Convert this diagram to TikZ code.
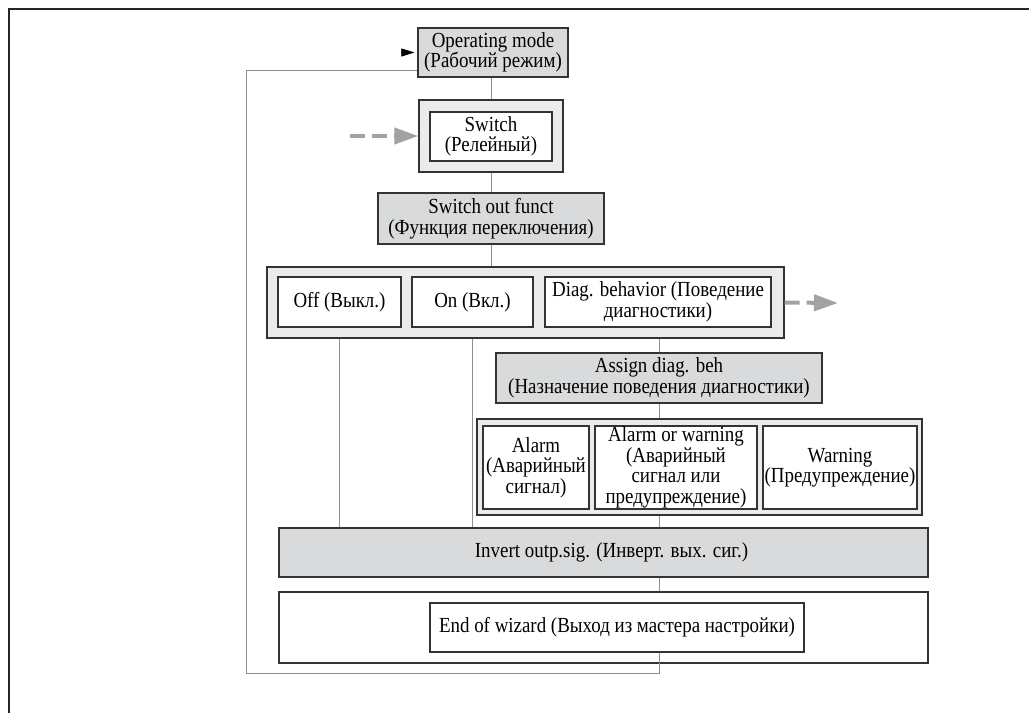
\documentclass[tikz,border=0pt]{standalone}
\usepackage{fontspec}
\setmainfont{Liberation Serif}[FakeStretch=0.88]
\usepackage{xcolor}
\usetikzlibrary{positioning,arrows.meta,calc}

\definecolor{boxgrey}{HTML}{D9DADB}
\definecolor{panegrey}{HTML}{EBEBEB}
\definecolor{linegrey}{HTML}{8E8E8E}
\definecolor{dashgrey}{HTML}{A2A2A2}

\begin{document}
\begin{tikzpicture}[
  x=1pt, y=-1pt,
  font=\fontsize{21.5}{20.5}\selectfont,
  every node/.style={draw=black!80, line width=1.2pt, align=center, inner sep=0pt},
  param/.style={fill=boxgrey},
  pane/.style={fill=panegrey},
  choice/.style={fill=white},
  link/.style={draw=linegrey, line width=0.9pt},
  goon/.style={draw=dashgrey, line width=4pt, dash pattern=on 15pt off 7pt,
    -{Triangle[length=24pt,width=16pt]}},
  back/.style={draw=black, line width=0.6pt, -{Triangle[length=13pt,width=8pt]}}]
\useasboundingbox (0,0) rectangle (1029,713);
\draw[black!85, line width=1.8pt] (9,713) -- (9,9) -- (1029,9);

% menu
\node[param, minimum width=150pt, minimum height=49pt] (op) at (493,52.5)
  {Operating mode\\(Рабочий режим)};
\node[pane, minimum width=144pt, minimum height=72pt] (sw) at (491,136) {};
\node[choice, minimum width=122pt, minimum height=49pt] (swin) at (491,136.5)
  {Switch\\(Релейный)};
\node[param, minimum width=226pt, minimum height=51pt] (swf) at (491,218.5)
  {Switch out funct\\(Функция переключения)};

\node[pane, minimum width=517pt, minimum height=71pt] (optrow) at (525.5,302.5) {};
\node[choice, minimum width=123pt, minimum height=50pt] (off) at (339.5,302) {Off (Выкл.)};
\node[choice, minimum width=121pt, minimum height=50pt] (on) at (472.5,302) {On (Вкл.)};
\node[choice, minimum width=226pt, minimum height=50pt] (diag) at (658,302)
  {Diag. behavior (Поведение\\диагностики)};

\node[param, minimum width=326pt, minimum height=50pt] (assign) at (659,378)
  {Assign diag. beh\\(Назначение поведения диагностики)};

\node[pane, minimum width=445pt, minimum height=96pt] (alrow) at (699.5,467) {};
\node[choice, minimum width=106pt, minimum height=83pt] (alarm) at (536,467.5)
  {Alarm\\(Аварийный\\сигнал)};
\node[choice, minimum width=162pt, minimum height=83pt] (alwarn) at (676,467.5)
  {Alarm or warning\\(Аварийный\\сигнал или\\предупреждение)};
\node[choice, minimum width=154pt, minimum height=83pt] (warn) at (840,467.5)
  {Warning\\(Предупреждение)};

\node[param, minimum width=649pt, minimum height=49pt] (invert) at (603.5,552.5)
  {\hspace*{16pt}Invert outp.sig. (Инверт. вых. сиг.)};
\node[choice, minimum width=649pt, minimum height=71pt] (endrow) at (603.5,627.5) {};
\node[choice, minimum width=374pt, minimum height=49pt] (endbox) at (617,627.5)
  {End of wizard (Выход из мастера настройки)};

% links
\draw[link] (op.south -| sw.north) -- (sw.north);
\draw[link] (sw.south) -- (swf.north);
\draw[link] (swf.south) -- (swf.south |- optrow.north);
\draw[link] (off |- optrow.south) -- (off |- invert.north);
\draw[link] (on |- optrow.south) -- (on |- invert.north);
\draw[link] (assign.north |- optrow.south) -- (assign.north);
\draw[link] (assign.south) -- (assign.south |- alrow.north);
\draw[link] (assign |- alrow.south) -- (assign |- invert.north);
\draw[link] (assign |- invert.south) -- (assign |- endrow.north);
\coordinate (loopcorner) at (246,673);
\coordinate (loopin) at (op.west |- 0,70);
\draw[link] (assign |- endbox.south) |- (loopcorner) |- (loopin);
\draw[back] ([xshift=-16pt]op.west) -- ([xshift=-3pt]op.west);

\coordinate (fromleft) at (350,136);
\coordinate (toright) at (838,303);
\draw[goon] (fromleft) -- (sw.west);
\draw[goon] (optrow.east) -- (toright);
\end{tikzpicture}
\end{document}
